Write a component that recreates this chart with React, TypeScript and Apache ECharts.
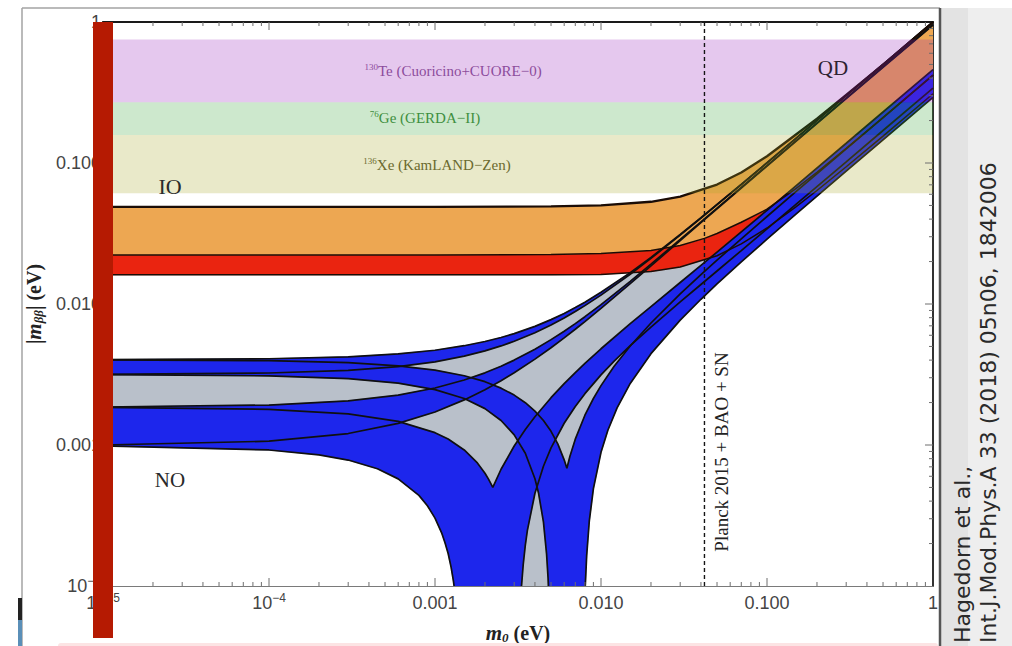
import React, { useEffect, useRef } from 'react';
import * as echarts from 'echarts';

// Effective Majorana mass |m_ββ| versus lightest neutrino mass m0 (both in eV).
const FLOOR = 1e-4;

// Normal ordering: upper / lower envelopes of the four CP-conserving combinations.
const noC1Hi = [[1e-5, 0.00403], [1e-4, 0.00409], [3e-4, 0.00422], [6e-4, 0.00443], [1e-3, 0.0047], [1.5e-3, 0.00506], [2e-3, 0.00542], [2.5e-3, 0.005787], [3e-3, 0.00616], [4e-3, 0.006943], [5e-3, 0.00775], [6e-3, 0.008576], [7e-3, 0.00943], [8e-3, 0.010294], [0.01, 0.0121], [0.015, 0.016681], [0.02, 0.0214], [0.03, 0.0311], [0.04, 0.0409], [0.05, 0.0508], [0.07, 0.07056], [0.1, 0.1004], [0.15, 0.15026], [0.3, 0.3002], [0.5, 0.5001], [1, 1.0]];
const noC1Lo = [[1e-5, 0.00317], [1e-4, 0.00324], [3e-4, 0.00338], [6e-4, 0.0036], [1e-3, 0.00389], [1.5e-3, 0.00427], [2e-3, 0.00465], [2.5e-3, 0.005042], [3e-3, 0.00544], [4e-3, 0.006258], [5e-3, 0.0071], [6e-3, 0.007963], [7e-3, 0.00884], [8e-3, 0.009738], [0.01, 0.01156], [0.015, 0.016264], [0.02, 0.02107], [0.03, 0.03083], [0.04, 0.04067], [0.05, 0.0506], [0.07, 0.07042], [0.1, 0.1003], [0.15, 0.1502], [0.3, 0.3], [0.5, 0.5], [1, 0.999]];
const noC2Hi = [[1e-5, 0.00186], [1e-4, 0.00192], [3e-4, 0.002055], [6e-4, 0.00226], [1e-3, 0.002535], [1.5e-3, 0.00289], [2e-3, 0.00325], [2.5e-3, 0.003623], [3e-3, 0.004], [4e-3, 0.004781], [5e-3, 0.00559], [6e-3, 0.006414], [7e-3, 0.00726], [8e-3, 0.008128], [0.01, 0.0099], [0.015, 0.014476], [0.02, 0.01917], [0.03, 0.0287], [0.04, 0.038279], [0.05, 0.0479], [0.07, 0.067112], [0.1, 0.0959], [0.15, 0.143994], [0.3, 0.288], [0.5, 0.48018], [1, 0.96]];
const noC2Lo = [[1e-5, 0.001], [1e-4, 0.001064], [3e-4, 0.001206], [6e-4, 0.001423], [1e-3, 0.001715], [1.5e-3, 0.002089], [2e-3, 0.002469], [2.5e-3, 0.002858], [3e-3, 0.003254], [4e-3, 0.004064], [5e-3, 0.004897], [6e-3, 0.005751], [7e-3, 0.006622], [8e-3, 0.007507], [0.01, 0.00931], [0.015, 0.013937], [0.02, 0.01865], [0.03, 0.02817], [0.04, 0.037725], [0.05, 0.0473], [0.07, 0.066398], [0.1, 0.095], [0.15, 0.142716], [0.3, 0.2857], [0.5, 0.47616], [1, 0.952]];
const noC3Hi = [[1e-5, 0.001849], [1e-4, 0.00179], [3e-4, 0.001662], [6e-4, 0.001472], [1e-3, 0.001223], [1.2e-3, 0.001102], [1.5e-3, 0.000922], [1.8e-3, 0.000746], [2e-3, 0.000631], [2.1e-3, 0.000573], [2.23e-3, 0.0005], [2.5e-3, 0.000673], [3e-3, 0.000984], [3.5e-3, 0.001288], [4e-3, 0.001587], [5e-3, 0.002165], [6e-3, 0.002723], [7e-3, 0.003264], [8e-3, 0.003792], [0.01, 0.004814], [0.015, 0.007249], [0.02, 0.009594], [0.03, 0.01421], [0.04, 0.018771], [0.05, 0.02334], [0.07, 0.03247], [0.1, 0.0462], [0.15, 0.069144], [0.3, 0.1381], [0.5, 0.23004], [1, 0.46]];
const noC3LoPre = [[1e-5, 0.000986], [1e-4, 0.000922], [2e-4, 0.000852], [3e-4, 0.000782], [4.5e-4, 0.000679], [6e-4, 0.000575], [8e-4, 0.000439], [9e-4, 0.000371], [1e-3, 0.000303], [1.1e-3, 0.000236], [1.15e-3, 0.000202], [1.2e-3, 0.00017], [1.25e-3, 0.000136], [1.29e-3, 0.000109], [1.303e-3, FLOOR]];
const noC3LoPost = [[3.32e-3, FLOOR], [3.4e-3, 0.000142], [3.5e-3, 0.000195], [3.6e-3, 0.000247], [4e-3, 0.000455], [4.5e-3, 0.000707], [5e-3, 0.000953], [6e-3, 0.001426], [7e-3, 0.001878], [8e-3, 0.002313], [0.01, 0.003142], [0.012, 0.003929], [0.015, 0.00506], [0.02, 0.006863], [0.03, 0.01034], [0.04, 0.01375], [0.05, 0.01714], [0.07, 0.023925], [0.1, 0.0341], [0.15, 0.051069], [0.3, 0.102], [0.5, 0.17002], [1, 0.34]];
const noC4Hi = [[1e-5, 0.00402], [1e-4, 0.003961], [3e-4, 0.003834], [6e-4, 0.003645], [1e-3, 0.003399], [1.5e-3, 0.0031], [2e-3, 0.002812], [2.5e-3, 0.002531], [3e-3, 0.002259], [3.5e-3, 0.001996], [4e-3, 0.00174], [4.5e-3, 0.001491], [5e-3, 0.00125], [5.5e-3, 0.001015], [6e-3, 0.000785], [6.23e-3, 0.000684], [6.5e-3, 0.000832], [7e-3, 0.0011], [8e-3, 0.001626], [9e-3, 0.002137], [0.01, 0.002637], [0.012, 0.003619], [0.015, 0.005041], [0.02, 0.007334], [0.03, 0.01179], [0.04, 0.016146], [0.05, 0.02046], [0.07, 0.029004], [0.1, 0.04173], [0.15, 0.062853], [0.3, 0.126], [0.5, 0.21013], [1, 0.4204]];
const noC4LoPre = [[1e-5, 0.003157], [1e-4, 0.003093], [3e-4, 0.002952], [6e-4, 0.002744], [1e-3, 0.002471], [1.5e-3, 0.002137], [2e-3, 0.001811], [2.5e-3, 0.001491], [3e-3, 0.00118], [3.5e-3, 0.000874], [4e-3, 0.000576], [4.2e-3, 0.000459], [4.5e-3, 0.000285], [4.7e-3, 0.000169], [4.8e-3, 0.000113], [4.82e-3, FLOOR]];
const noC4LoPost = [[8.04e-3, FLOOR], [8.2e-3, 0.000165], [8.5e-3, 0.000288], [9e-3, 0.000491], [0.01, 0.000887], [0.011, 0.001272], [0.0125, 0.001833], [0.015, 0.002732], [0.02, 0.004443], [0.03, 0.007682], [0.04, 0.010805], [0.05, 0.01387], [0.07, 0.019899], [0.1, 0.02883], [0.15, 0.043578], [0.3, 0.08758], [0.5, 0.14611], [1, 0.2924]];

// Inverted ordering: maximum and the two minimum envelopes.
const ioMax = [[1e-5, 0.0489], [1e-3, 0.0489], [5e-3, 0.04925], [0.01, 0.0501], [0.02, 0.0531], [0.03, 0.0577], [0.05, 0.0703], [0.07, 0.0857], [0.1, 0.1116], [0.2, 0.2061], [0.3, 0.304], [0.5, 0.4975], [1, 1.0]];
const ioMinHi = [[1e-5, 0.0223], [1e-3, 0.0223], [5e-3, 0.0224], [0.01, 0.0228], [0.02, 0.024], [0.03, 0.026], [0.042, 0.0292], [0.05, 0.0316], [0.07, 0.038], [0.1, 0.047], [0.15, 0.066], [0.2, 0.086], [0.3, 0.127], [0.5, 0.21], [1, 0.42]];
const ioMinLo = [[1e-5, 0.0161], [1e-3, 0.0161], [5e-3, 0.0161], [0.01, 0.0162], [0.02, 0.017], [0.03, 0.0183], [0.05, 0.022], [0.07, 0.0267], [0.1, 0.0346], [0.15, 0.049], [0.2, 0.0638], [0.3, 0.0941], [0.5, 0.155], [1, 0.31]];

// Experimental upper-limit ranges.
const bandLabels = ['{sup|136}Xe (KamLAND−Zen)', '{sup|76}Ge (GERDA−II)', '{sup|130}Te (Cuoricino+CUORE−0)'];
const bandLower = [0.061, 0.158, 0.27];
const bandUpper = [0.158, 0.27, 0.75];

// Cosmological bound on the lightest mass.
const planckLimit = 0.042;

// Axis tick labels.
const xTickLabels = ['10{s|−5}', '10{s|−4}', '0.001', '0.010', '0.100', '1'];
const yTickLabels = ['10{s|−4}', '0.001', '0.010', '0.100', '1'];
const decadesX = [1e-5, 1e-4, 1e-3, 1e-2, 1e-1];
const decadesY = [1e-4, 1e-3, 1e-2, 1e-1];
const minorSteps = [2, 3, 4, 5, 6, 7, 8, 9];

const rev = (a: number[][]) => a.slice().reverse();

const noOuter = [...noC1Hi, ...rev(noC4LoPost), ...rev(noC3LoPre)];
const c1Band = [...noC1Hi, ...rev(noC1Lo)];
const c2Band = [...noC2Hi, ...rev(noC2Lo)];
const c3Band = [...noC3Hi, ...rev(noC3LoPost), ...rev(noC3LoPre)];
const c4Band = [...noC4Hi, ...rev(noC4LoPost), ...rev(noC4LoPre)];
const ioRed = [...ioMinHi, ...rev(ioMinLo)];
const ioOrange = [...ioMax, ...rev(ioMinHi)];

const GREY = '#b9c0ca';
const BLUE = '#1d26ec';
const ORANGE = '#eda752';
const RED = '#ea2410';
const INK = '#101010';

const bandFills = ['rgba(167,167,39,0.25)', 'rgba(55,163,55,0.25)', 'rgba(151,35,187,0.25)'];
const bandTextColors = ['#6b6a2e', '#3f8f3f', '#8c4c9c'];
const bandTextPos = [[437, 165], [425, 118], [453, 71]];

const SANS = '"Liberation Sans", Arial, sans-serif';
const SERIF = '"Liberation Serif", "Times New Roman", serif';

function polygon(id: string, pts: number[][], fill: string, z: number) {
  return {
    type: 'custom',
    id,
    z,
    silent: true,
    clip: true,
    data: [[1e-3, 1e-3]],
    encode: { x: 0, y: 1 },
    renderItem: (_p: any, api: any) => ({
      type: 'polygon',
      shape: { points: pts.map((p) => api.coord(p)) },
      style: { fill, stroke: fill, lineWidth: 0.4 },
    }),
  };
}

function curve(id: string, pts: number[][], width = 1.7, color = INK) {
  return {
    type: 'line',
    id,
    z: 5,
    silent: true,
    data: pts,
    symbol: 'none',
    showSymbol: false,
    lineStyle: { color, width },
  };
}

function buildOption() {
  const minorX = decadesX.flatMap((d) => minorSteps.map((k) => k * d));
  const minorY = decadesY.flatMap((d) => minorSteps.map((k) => k * d));
  const majorX = decadesX.slice(1);
  const majorY = decadesY.slice(1);

  const supStyle = { fontSize: 12, lineHeight: 12, verticalAlign: 'top', fontFamily: SANS, color: '#444' };
  const nameRich = {
    b: { fontFamily: SERIF, fontWeight: 'bold', fontSize: 20, lineHeight: 22, color: '#222' },
    i: { fontFamily: SERIF, fontWeight: 'bold', fontStyle: 'italic', fontSize: 21, lineHeight: 22, color: '#222' },
    sub: { fontFamily: SERIF, fontWeight: 'bold', fontStyle: 'italic', fontSize: 13, lineHeight: 13, verticalAlign: 'bottom', color: '#222' },
  };

  const frameAxis = {
    axisTick: { show: false },
    splitLine: { show: false },
    minorTick: { show: false },
  };

  return {
    animation: false,
    backgroundColor: '#ffffff',
    grid: { left: 103, right: 79, top: 22, bottom: 60, containLabel: false, outerBoundsMode: 'none' },
    xAxis: [
      {
        ...frameAxis,
        type: 'log',
        logBase: 10,
        min: 1e-5,
        max: 1,
        position: 'bottom',
        axisLine: { show: true, onZero: false, lineStyle: { color: '#7a7a7a', width: 1.2 } },
        axisLabel: {
          margin: 6,
          fontSize: 18,
          lineHeight: 22,
          color: '#444',
          fontFamily: SANS,
          formatter: (v: number) => xTickLabels[Math.round(Math.log10(v)) + 5] ?? '',
          rich: { s: supStyle },
        },
        name: '{i|m}{sub|0}{b| (eV)}',
        nameLocation: 'middle',
        nameGap: 36,
        nameTextStyle: { rich: nameRich },
      },
      {
        ...frameAxis,
        type: 'log',
        logBase: 10,
        min: 1e-5,
        max: 1,
        position: 'top',
        axisLine: { show: true, onZero: false, lineStyle: { color: '#1a1a1a', width: 2 } },
        axisLabel: { show: false },
      },
    ],
    yAxis: [
      {
        ...frameAxis,
        type: 'log',
        logBase: 10,
        min: 1e-4,
        max: 1,
        position: 'left',
        axisLine: { show: true, onZero: false, lineStyle: { color: '#333', width: 1.5 } },
        axisLabel: {
          margin: 2,
          fontSize: 18,
          lineHeight: 22,
          color: '#444',
          fontFamily: SANS,
          formatter: (v: number) => yTickLabels[Math.round(Math.log10(v)) + 4] ?? '',
          rich: { s: supStyle },
        },
        name: '{b||}{i|m}{sub|ββ}{b|| (eV)}',
        nameLocation: 'middle',
        nameGap: 55,
        nameRotate: 90,
        nameTextStyle: { rich: nameRich },
      },
      {
        ...frameAxis,
        type: 'log',
        logBase: 10,
        min: 1e-4,
        max: 1,
        position: 'right',
        axisLine: { show: true, onZero: false, lineStyle: { color: '#333', width: 2 } },
        axisLabel: { show: false },
      },
    ],
    series: [
      polygon('no-region', noOuter, GREY, 1),
      polygon('no-c1', c1Band, BLUE, 2),
      polygon('no-c2', c2Band, BLUE, 2),
      polygon('io-red', ioRed, RED, 3),
      polygon('io-orange', ioOrange, ORANGE, 3),
      polygon('no-c3', c3Band, BLUE, 4),
      polygon('no-c4', c4Band, BLUE, 4),
      curve('l-c1hi', noC1Hi),
      curve('l-c1lo', noC1Lo),
      curve('l-c2hi', noC2Hi),
      curve('l-c2lo', noC2Lo),
      curve('l-c3hi', noC3Hi),
      curve('l-c3lo-a', noC3LoPre),
      curve('l-c3lo-b', noC3LoPost),
      curve('l-c4hi', noC4Hi),
      curve('l-c4lo-a', noC4LoPre),
      curve('l-c4lo-b', noC4LoPost),
      curve('l-iomax', ioMax, 2.3, '#1a0c06'),
      curve('l-iominhi', ioMinHi, 1.5, '#1a0c06'),
      curve('l-iominlo', ioMinLo, 1.5, '#1a0c06'),
      {
        type: 'custom',
        id: 'exp-bands',
        z: 6,
        silent: true,
        clip: true,
        data: bandLower.map((lo, i) => [1e-3, lo, bandUpper[i]]),
        encode: { x: 0, y: [1, 2] },
        renderItem: (params: any, api: any) => {
          const a = api.coord([1e-5, api.value(2)]);
          const b = api.coord([1, api.value(1)]);
          return {
            type: 'rect',
            shape: { x: a[0], y: a[1], width: b[0] - a[0], height: b[1] - a[1] },
            style: { fill: bandFills[params.dataIndex] },
          };
        },
      },
      {
        type: 'line',
        id: 'planck',
        z: 7,
        silent: true,
        data: [[planckLimit, 1e-4], [planckLimit, 1]],
        symbol: 'none',
        lineStyle: { color: '#151515', width: 1.4, type: [4, 3] },
      },
      {
        type: 'custom',
        id: 'frame-ticks',
        z: 8,
        silent: true,
        clip: false,
        data: [[1e-3, 1e-3]],
        encode: { x: 0, y: 1 },
        renderItem: (_p: any, api: any) => {
          const [x0, y0] = api.coord([1e-5, 1e-4]);
          const [x1, y1] = api.coord([1, 1]);
          const kids: any[] = [];
          const seg = (xa: number, ya: number, xb: number, yb: number) =>
            kids.push({ type: 'line', shape: { x1: xa, y1: ya, x2: xb, y2: yb }, style: { stroke: '#6e6e6e', lineWidth: 1 } });
          minorX.forEach((v) => {
            const x = api.coord([v, 1e-4])[0];
            seg(x, y0, x, y0 - 4);
            seg(x, y1, x, y1 + 4);
          });
          majorX.forEach((v) => {
            const x = api.coord([v, 1e-4])[0];
            seg(x, y0, x, y0 - 8);
            seg(x, y1, x, y1 + 8);
          });
          minorY.forEach((v) => {
            const y = api.coord([1e-5, v])[1];
            seg(x0, y, x0 + 4, y);
            seg(x1, y, x1 - 4, y);
          });
          majorY.forEach((v) => {
            const y = api.coord([1e-5, v])[1];
            seg(x0, y, x0 + 8, y);
            seg(x1, y, x1 - 8, y);
          });
          return { type: 'group', children: kids };
        },
      },
    ],
    graphic: [
      { type: 'rect', z: 90, silent: true, shape: { x: 941, y: 8, width: 71, height: 638 }, style: { fill: '#e3e3e3' } },
      { type: 'rect', z: 90, silent: true, shape: { x: 968, y: 8, width: 44, height: 638 }, style: { fill: '#eeeeee' } },
      { type: 'line', z: 91, silent: true, shape: { x1: 22, y1: 8, x2: 940, y2: 8 }, style: { stroke: '#a3a3a3', lineWidth: 1.5 } },
      { type: 'line', z: 91, silent: true, shape: { x1: 22, y1: 8, x2: 22, y2: 646 }, style: { stroke: '#a3a3a3', lineWidth: 1.5 } },
      { type: 'line', z: 91, silent: true, shape: { x1: 940, y1: 8, x2: 940, y2: 646 }, style: { stroke: '#555', lineWidth: 2.5 } },
      { type: 'rect', z: 91, silent: true, shape: { x: 58, y: 643, width: 880, height: 8, r: 3 }, style: { fill: '#fce4e4' } },
      { type: 'rect', z: 92, silent: true, shape: { x: 18, y: 598, width: 4, height: 22 }, style: { fill: '#222' } },
      { type: 'rect', z: 92, silent: true, shape: { x: 18, y: 620, width: 4, height: 26 }, style: { fill: '#5a8fb8' } },
      { type: 'rect', z: 95, silent: true, shape: { x: 93, y: 22, width: 20, height: 616 }, style: { fill: '#b51a02' } },
      ...bandLabels.map((t, i) => ({
        type: 'text',
        z: 96,
        silent: true,
        x: bandTextPos[i][0],
        y: bandTextPos[i][1],
        style: {
          text: t,
          fontFamily: SERIF,
          fontSize: 15,
          lineHeight: 18,
          fill: bandTextColors[i],
          align: 'center',
          verticalAlign: 'middle',
          rich: { sup: { fontFamily: SERIF, fontSize: 9, lineHeight: 10, verticalAlign: 'top', fill: bandTextColors[i] } },
        },
      })),
      { type: 'text', z: 96, silent: true, x: 170, y: 186, style: { text: 'IO', fontFamily: SERIF, fontSize: 22, fill: '#2a2a2a', align: 'center', verticalAlign: 'middle' } },
      { type: 'text', z: 96, silent: true, x: 170, y: 480, style: { text: 'NO', fontFamily: SERIF, fontSize: 21, fill: '#2a2a2a', align: 'center', verticalAlign: 'middle' } },
      { type: 'text', z: 96, silent: true, x: 833, y: 68, style: { text: 'QD', fontFamily: SERIF, fontSize: 21, fill: '#2e2230', align: 'center', verticalAlign: 'middle' } },
      { type: 'text', z: 96, silent: true, x: 721, y: 452, rotation: Math.PI / 2, style: { text: 'Planck 2015 + BAO + SN', fontFamily: SERIF, fontSize: 19, fill: '#222', align: 'center', verticalAlign: 'middle' } },
      { type: 'text', z: 96, silent: true, x: 962, y: 643, rotation: Math.PI / 2, style: { text: 'Hagedorn et al.,', fontFamily: '"DejaVu Sans", sans-serif', fontSize: 22, fill: '#2a2a2a', align: 'left', verticalAlign: 'middle' } },
      { type: 'text', z: 96, silent: true, x: 988, y: 643, rotation: Math.PI / 2, style: { text: 'Int.J.Mod.Phys.A 33 (2018) 05n06, 1842006', fontFamily: '"DejaVu Sans", sans-serif', fontSize: 22, fill: '#2a2a2a', align: 'left', verticalAlign: 'middle' } },
    ],
  };
}

export default function App() {
  const ref = useRef<HTMLDivElement>(null);
  useEffect(() => {
    if (!ref.current) return;
    const chart = echarts.init(ref.current, undefined, { renderer: 'svg' });
    chart.setOption(buildOption() as any);
    return () => chart.dispose();
  }, []);
  return <div ref={ref} style={{ position: 'fixed', left: 0, top: 0, width: 1012, height: 646, background: '#ffffff' }} />;
}
